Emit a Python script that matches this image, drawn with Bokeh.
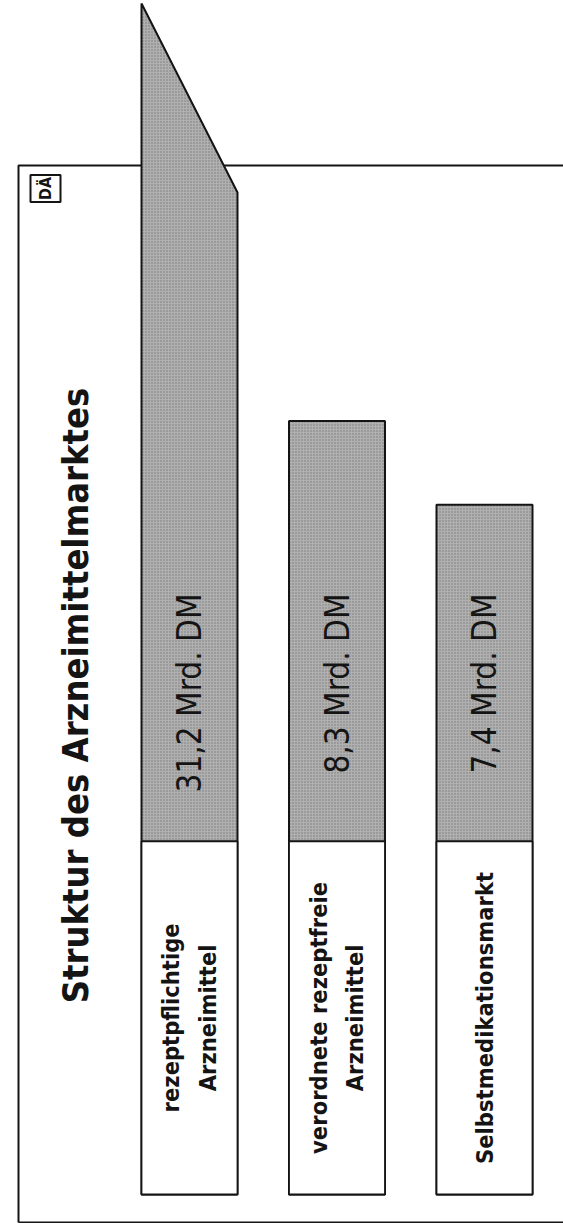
from math import pi

from bokeh.core.properties import value
from bokeh.embed import file_html
from bokeh.models import Range1d
from bokeh.plotting import figure
from bokeh.resources import INLINE

# ---- data -------------------------------------------------------------
title_text = "Struktur des Arzneimittelmarktes"
categories = [
    "rezeptpflichtige\nArzneimittel",
    "verordnete rezeptfreie\nArzneimittel",
    "Selbstmedikationsmarkt",
]
values = [31.2, 8.3, 7.4]                       # Mrd. DM
value_labels = ["31,2 Mrd. DM", "8,3 Mrd. DM", "7,4 Mrd. DM"]
badge_text = "DÄ"

# ---- layout -----------------------------------------------------------
W, H = 563, 1223
PX_PER_UNIT = 93.2        # vertical pixels per Mrd. DM
BASE_FROM_BOTTOM = 29     # pixels between bar foot and page bottom
SLOT_PX = 147.5           # horizontal distance between bar centres
FIRST_CENTER_PX = 189
BAR_PX = 96
CAPTION_PANEL = 3.79      # height (Mrd. DM) of the white caption panel at each bar foot

y_lo = -BASE_FROM_BOTTOM / PX_PER_UNIT
y_hi = y_lo + H / PX_PER_UNIT
x_lo = -FIRST_CENTER_PX / SLOT_PX
x_hi = x_lo + W / SLOT_PX


def fx(px):
    return x_lo + px / SLOT_PX


def fy(py):
    return y_hi - py / PX_PER_UNIT


NARROW = "DejaVu Sans Condensed"
INK = "#141414"
GREY = "#b0b0b0"
BAR_STYLE = dict(fill_color=GREY, hatch_pattern="dot", hatch_color="#787878",
                 hatch_scale=3, hatch_weight=1.2,
                 line_color=INK, line_width=2)

p = figure(
    width=W, height=H,
    x_range=Range1d(x_lo, x_hi), y_range=Range1d(y_lo, y_hi),
    output_backend="svg", toolbar_location=None,
    min_border=0, outline_line_color=None,
    background_fill_color="white", border_fill_color="white",
)
p.axis.visible = False
p.grid.visible = False

# outer frame (open on the right)
p.multi_line(
    xs=[[fx(18), fx(18), fx(W + 5)], [fx(18), fx(W + 5)]],
    ys=[[fy(1222), fy(165), fy(165)], [fy(1222), fy(1222)]],
    line_color=INK, line_width=2,
)

# badge
p.rect(x=fx(45), y=fy(188), width=30 / SLOT_PX, height=27 / PX_PER_UNIT,
       fill_color="white", line_color=INK, line_width=2)
p.text(x=[fx(45)], y=[fy(188)], text=[badge_text], angle=pi / 2,
       text_align="center", text_baseline="middle",
       text_font=value(NARROW), text_font_style="bold", text_font_size="16px",
       text_color=INK)

# bars; a value beyond the page is drawn with a slanted break at its top
half = BAR_PX / SLOT_PX / 2
break_left = fy(3)
break_right = fy(192)
for i, v in enumerate(values):
    left, right = i - half, i + half
    if v > break_right:
        p.patch(x=[left, right, right, left],
                y=[0, 0, break_right, break_left], **BAR_STYLE)
    else:
        p.quad(left=[left], right=[right], bottom=[0], top=[v], **BAR_STYLE)

# white caption panels at the foot of the bars
xs = list(range(len(values)))
p.quad(left=[x - half for x in xs], right=[x + half for x in xs],
       bottom=[0] * len(xs), top=[CAPTION_PANEL] * len(xs),
       fill_color="white", line_color=INK, line_width=1.8)

p.text(x=xs, y=[CAPTION_PANEL / 2] * len(xs), text=categories, angle=pi / 2,
       text_align="center", text_baseline="middle", text_line_height=1.3,
       text_font=value(NARROW), text_font_style="bold", text_font_size="23.5px",
       text_color=INK)

# value labels, ending at a common line near the bar tops
p.text(x=xs, y=[fy(593)] * len(xs), text=value_labels, angle=pi / 2,
       text_align="right", text_baseline="middle",
       text_font=value(NARROW), text_font_size="33px", text_color=INK)

# title
p.text(x=[fx(75)], y=[fy(695)], text=[title_text], angle=pi / 2,
       text_align="center", text_baseline="middle",
       text_font=value(NARROW), text_font_style="bold", text_font_size="36px",
       text_color=INK)

open("out.html", "w").write(file_html(p, INLINE))
